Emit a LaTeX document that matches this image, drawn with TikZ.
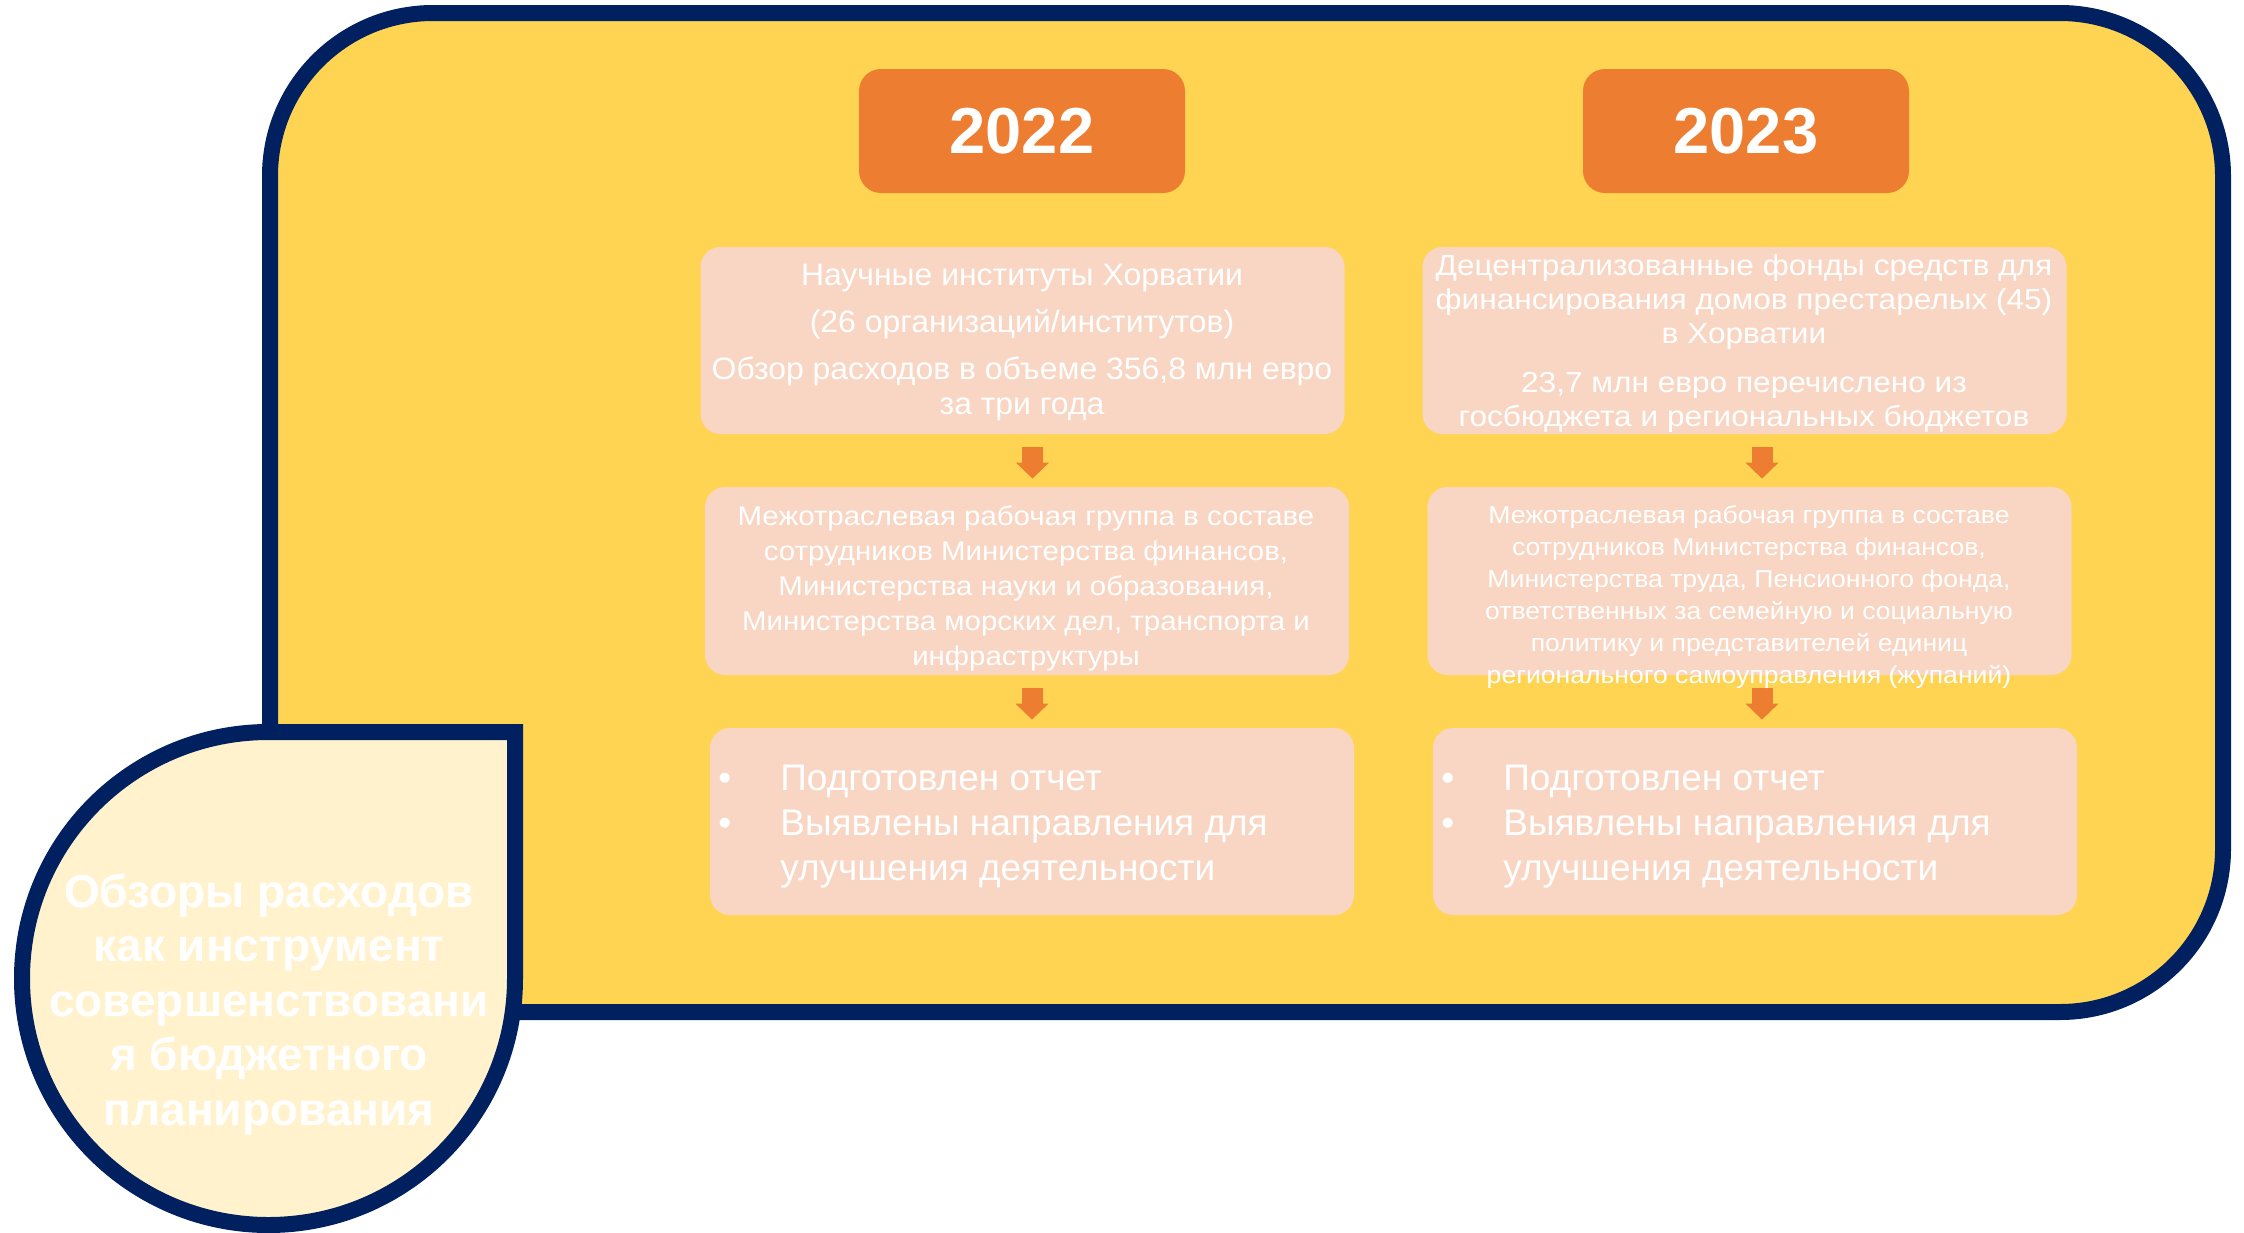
\documentclass[tikz,border=0pt]{standalone}
\usepackage{fontspec}
\setmainfont{Liberation Sans}
\newfontfamily\wideA[FakeStretch=1.03]{Liberation Sans}
\newfontfamily\wideB[FakeStretch=1.09]{Liberation Sans}
\usetikzlibrary{arrows.meta}
\definecolor{navy}{HTML}{002060}
\definecolor{gold}{HTML}{FFD452}
\definecolor{orng}{HTML}{ED7D31}
\definecolor{peach}{HTML}{F8D6C3}
\definecolor{cream}{HTML}{FFF2CC}
\begin{document}
\begin{tikzpicture}[x=0.5pt,y=-0.5pt,
  yearbox/.style={fill=orng, rounded corners=11pt, minimum width=163pt, minimum height=62pt, inner sep=0pt, text=white, font=\fontsize{32.5}{39}\selectfont\bfseries},
  peachbox/.style={fill=peach, rounded corners=10pt, minimum width=322pt, minimum height=94pt, inner sep=0pt},
  txt/.style={text=white, inner sep=0pt, anchor=base},
  blockarrow/.style={draw=orng, line width=10.5pt, -{Triangle[length=8pt,width=16.5pt,line width=0pt]}, shorten <=6.5pt, shorten >=4pt}
]
\useasboundingbox (0,0) rectangle (2244,1232);
\fill[white] (0,0) rectangle (2244,1232);

% outer frame
\draw[navy, line width=8pt, fill=gold, rounded corners=81.5pt] (270,13) rectangle (2223,1012);

% year boxes
\node[yearbox] (y22) at (1022,131) {2022};
\node[yearbox] (y23) at (1746,131) {2023};

% 2022 column
\node[peachbox, minimum height=93.5pt] (a1) at (1022.5,340.5) {};
\node[peachbox] (a2) at (1027,581) {};
\node[peachbox, minimum height=93.5pt] (a3) at (1032,821.5) {};
% 2023 column
\node[peachbox, minimum height=93.5pt] (b1) at (1744.5,340.5) {};
\node[peachbox] (b2) at (1749.5,581) {};
\node[peachbox, minimum height=93.5pt] (b3) at (1755,821.5) {};

% arrows
\draw[blockarrow] ([xshift=5pt]a1.south) -- ([xshift=5pt]a1.south |- a2.north);
\draw[blockarrow] ([xshift=2.5pt]a2.south) -- ([xshift=2.5pt]a2.south |- a3.north);
\draw[blockarrow] ([xshift=8.75pt]b1.south) -- ([xshift=8.75pt]b1.south |- b2.north);
\draw[blockarrow] ([xshift=6.25pt]b2.south) -- ([xshift=6.25pt]b2.south |- b3.north);

% texts 2022
\node[txt, font=\wideA\fontsize{15.5}{17.5}\selectfont] (ta1) at (1022,285) {\begin{tabular}[t]{@{}c@{}}Научные институты Хорватии\\[6pt](26 организаций/институтов)\\[6pt]Обзор расходов в объеме 356,8 млн евро\\за три года\end{tabular}};
\node[txt, font=\wideB\fontsize{13.5}{17.5}\selectfont] (ta2) at (1026,525) {\begin{tabular}[t]{@{}c@{}}Межотраслевая рабочая группа в составе\\сотрудников Министерства финансов,\\Министерства науки и образования,\\Министерства морских дел, транспорта и\\инфраструктуры\end{tabular}};
\node[txt, anchor=base west, font=\fontsize{18.5}{22.5}\selectfont] (ta3) at (718,790) {\begin{tabular}[t]{@{}l@{}}\makebox[31pt][l]{•}Подготовлен отчет\\\makebox[31pt][l]{•}Выявлены направления для\\\hspace*{31pt}улучшения деятельности\end{tabular}};

% texts 2023
\node[txt, font=\wideB\fontsize{14.5}{17}\selectfont] (tb1) at (1744,275) {\begin{tabular}[t]{@{}c@{}}Децентрализованные фонды средств для\\финансирования домов престарелых (45)\\в Хорватии\\[7.5pt]23,7 млн евро перечислено из\\госбюджета и региональных бюджетов\end{tabular}};
\node[txt, font=\wideB\fontsize{12.2}{16}\selectfont] (tb2) at (1749,523) {\begin{tabular}[t]{@{}c@{}}Межотраслевая рабочая группа в составе\\сотрудников Министерства финансов,\\Министерства труда, Пенсионного фонда,\\ответственных за семейную и социальную\\политику и представителей единиц\\регионального самоуправления (жупаний)\end{tabular}};
\node[txt, anchor=base west, font=\fontsize{18.5}{22.5}\selectfont] (tb3) at (1441,790) {\begin{tabular}[t]{@{}l@{}}\makebox[31pt][l]{•}Подготовлен отчет\\\makebox[31pt][l]{•}Выявлены направления для\\\hspace*{31pt}улучшения деятельности\end{tabular}};

% teardrop title
\draw[navy, line width=8pt, fill=cream] (515,978.5) -- (515,732) -- (268.5,732) arc[start angle=270, end angle=0, radius=246.5] -- cycle;
\node[txt, font=\fontsize{23}{27.3}\selectfont\bfseries] (title) at (269,907) {\begin{tabular}[t]{@{}c@{}}Обзоры расходов\\как инструмент\\совершенствовани\\я бюджетного\\планирования\end{tabular}};
\end{tikzpicture}
\end{document}
